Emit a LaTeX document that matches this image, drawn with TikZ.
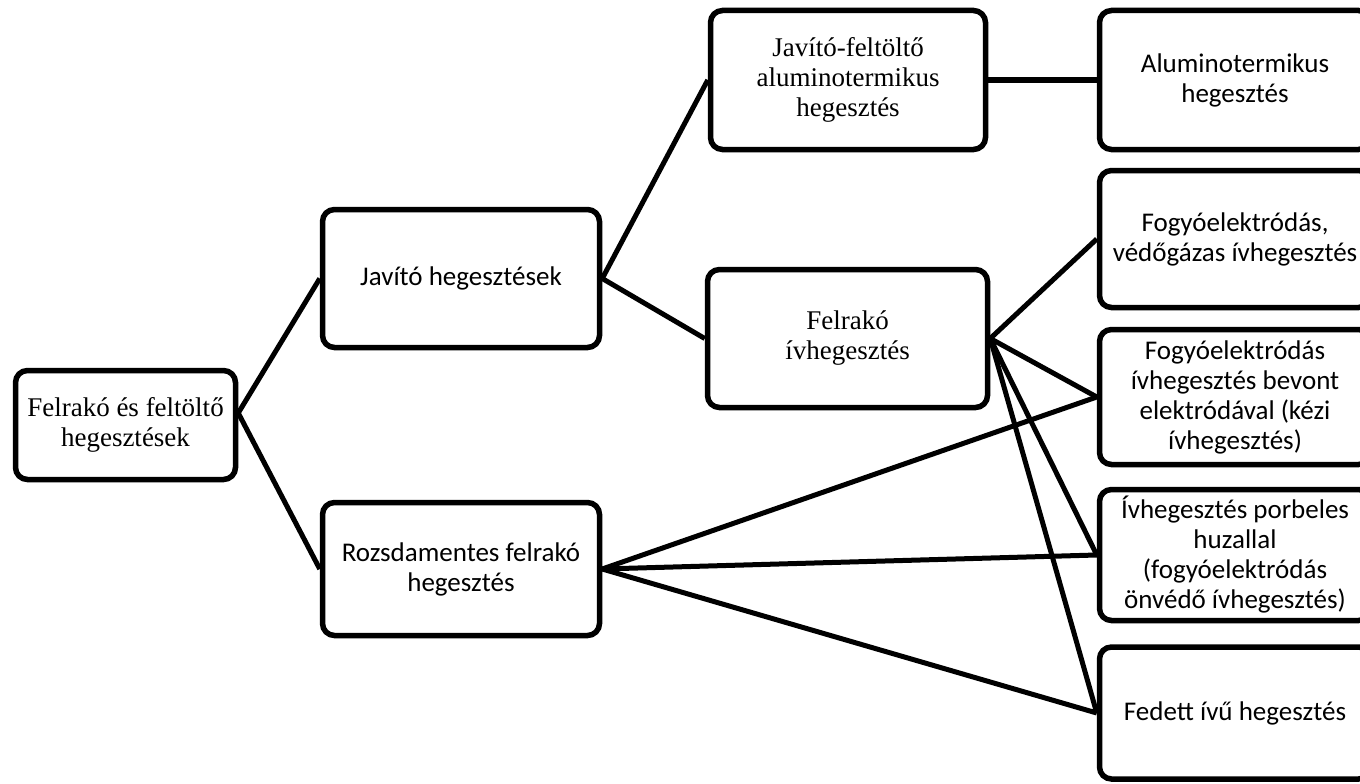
\documentclass[tikz,border=0pt]{standalone}
\usepackage{fontspec}
\usetikzlibrary{shadows}
\setmainfont{Liberation Serif}
\newfontfamily\calfont{Carlito}
\begin{document}
\begin{tikzpicture}[x=1pt,y=-1pt,
  box/.style={draw=black, line width=5.5pt, rounded corners=12pt, fill=white, align=center, inner sep=0pt,
    drop shadow={shadow xshift=0.5pt, shadow yshift=-2pt, fill=black, opacity=0.85}},
  serif/.style={font=\fontsize{27}{30}\selectfont},
  sans/.style={font=\calfont\fontsize{27}{30}\selectfont},
  link/.style={line width=5pt, draw=black}]
\useasboundingbox (0,0) rectangle (1360,784);
% left column
\node[box,serif,minimum width=220pt,minimum height=109pt] (root) at (125.5,425) {Felrakó és feltöltő\\hegesztések};
% middle column
\node[box,sans,minimum width=277pt,minimum height=138pt] (jav) at (461,278.5) {Javító hegesztések};
\node[box,sans,minimum width=277pt,minimum height=133pt] (rozs) at (461,569) {Rozsdamentes felrakó\\hegesztés};
% third column
\node[box,serif,minimum width=275pt,minimum height=139pt] (jf) at (848,80) {Javító-feltöltő\\aluminotermikus\\hegesztés};
\node[box,serif,minimum width=280pt,minimum height=138pt] (felr) at (847.5,338.5) {Felrakó\\ívhegesztés};
% right column
\node[box,sans,minimum width=271pt,minimum height=139pt] (alu) at (1235,80) {Aluminotermikus\\hegesztés};
\node[box,sans,minimum width=271pt,minimum height=137pt] (vg) at (1235,239) {Fogyóelektródás,\\védőgázas ívhegesztés};
\node[box,sans,minimum width=271pt,minimum height=135pt] (bev) at (1235,397) {Fogyóelektródás\\ívhegesztés bevont\\elektródával (kézi\\ívhegesztés)};
\node[box,sans,minimum width=271pt,minimum height=131pt] (por) at (1235,555) {Ívhegesztés porbeles\\huzallal\\(fogyóelektródás\\önvédő ívhegesztés)};
\node[box,sans,minimum width=271pt,minimum height=132pt] (fed) at (1235,713) {Fedett ívű hegesztés};
% connectors
\draw[link] ([yshift=12pt]root.east) -- (jav.west);
\draw[link] ([yshift=12pt]root.east) -- (rozs.west);
\draw[link] (jav.east) -- (jf.west);
\draw[link] (jav.east) -- (felr.west);
\draw[link] (jf.east) -- (alu.west);
\draw[link] (felr.east) -- (vg.west);
\draw[link] (felr.east) -- (bev.west);
\draw[link] (felr.east) -- (por.west);
\draw[link] (felr.east) -- (fed.west);
\draw[link] (rozs.east) -- (bev.west);
\draw[link] (rozs.east) -- (por.west);
\draw[link] (rozs.east) -- (fed.west);
\end{tikzpicture}
\end{document}
